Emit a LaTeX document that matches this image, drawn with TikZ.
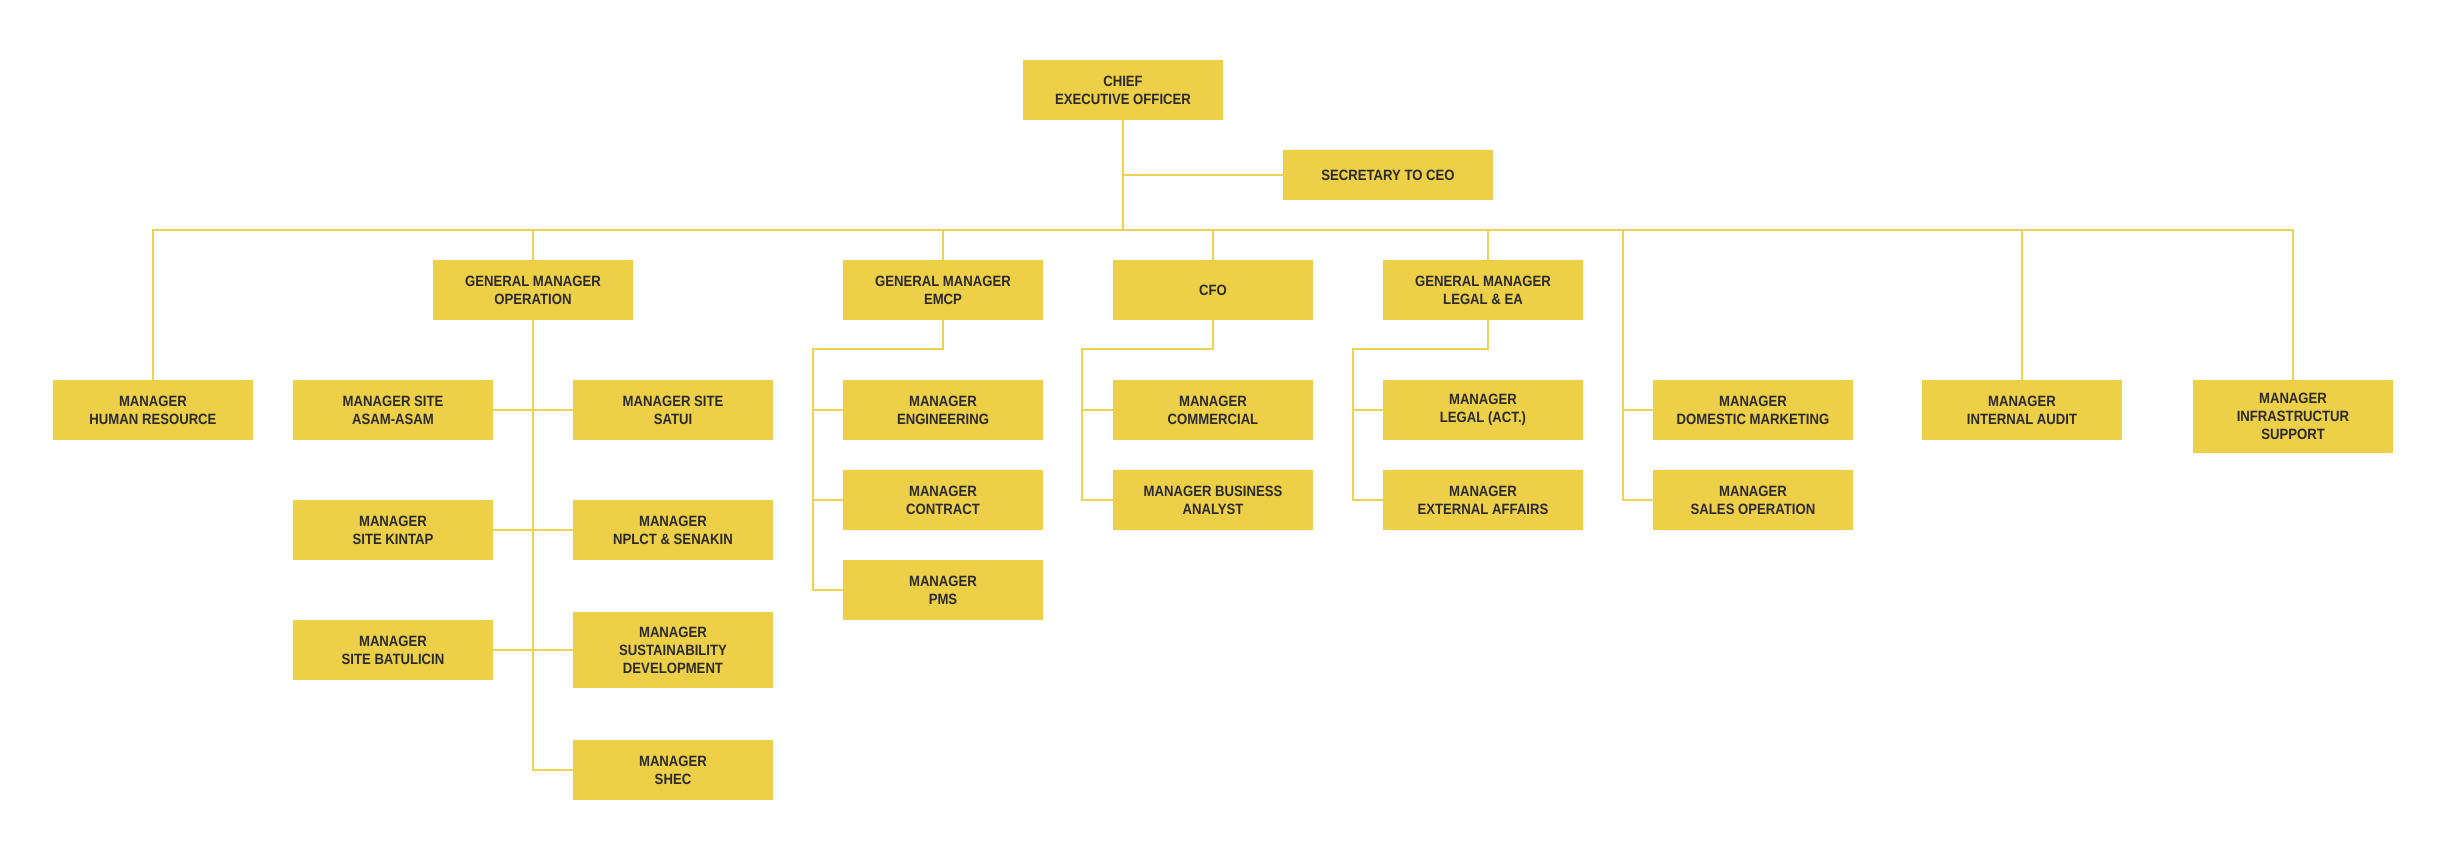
\documentclass[tikz,border=0pt]{standalone}
\usepackage{fontspec}
\usepackage{tikz}
\newfontfamily\orgfont[FakeStretch=0.88]{Liberation Sans}
\definecolor{orgyellow}{HTML}{EDCF48}
\definecolor{orgline}{HTML}{EFD253}
\definecolor{orgtext}{HTML}{2B2B2B}

\begin{document}
\begin{tikzpicture}[x=0.02cm, y=-0.02cm,
        box/.style={fill=orgyellow, text=orgtext, font=\orgfont\bfseries\fontsize{8.5}{10.2}\selectfont, align=center, minimum width=4cm, minimum height=1.2cm, inner sep=2pt},
        link/.style={draw=orgline, line width=1.6pt}]
        \useasboundingbox (0,0) rectangle (2459,853);
        % top
        \node[box] (ceo) at (1123,90) {CHIEF\\EXECUTIVE OFFICER};
        \node[box, minimum width=4.2cm, minimum height=1cm] (sec) at (1388,175) {SECRETARY TO CEO};
        % general managers
        \node[box] (gmop) at (533,290) {GENERAL MANAGER\\OPERATION};
        \node[box] (gmemcp) at (943,290) {GENERAL MANAGER\\EMCP};
        \node[box] (cfo) at (1213,290) {CFO};
        \node[box] (gmlegal) at (1483,290) {GENERAL MANAGER\\LEGAL \& EA};
        % managers under ceo
        \node[box] (hr) at (153,410) {MANAGER\\HUMAN RESOURCE};
        \node[box] (domestic) at (1753,410) {MANAGER\\DOMESTIC MARKETING};
        \node[box] (sales) at (1753,500) {MANAGER\\SALES OPERATION};
        \node[box] (audit) at (2022,410) {MANAGER\\INTERNAL AUDIT};
        \node[box, minimum height=1.46cm] (infra) at (2293,416.5) {MANAGER\\INFRASTRUCTUR\\SUPPORT};
        % operation
        \node[box] (asam) at (393,410) {MANAGER SITE\\ASAM-ASAM};
        \node[box] (satui) at (673,410) {MANAGER SITE\\SATUI};
        \node[box] (kintap) at (393,530) {MANAGER\\SITE KINTAP};
        \node[box] (nplct) at (673,530) {MANAGER\\NPLCT \& SENAKIN};
        \node[box] (batulicin) at (393,650) {MANAGER\\SITE BATULICIN};
        \node[box, minimum height=1.52cm] (sustain) at (673,650) {MANAGER\\SUSTAINABILITY\\DEVELOPMENT};
        \node[box] (shec) at (673,770) {MANAGER\\SHEC};
        % emcp
        \node[box] (eng) at (943,410) {MANAGER\\ENGINEERING};
        \node[box] (contract) at (943,500) {MANAGER\\CONTRACT};
        \node[box] (pms) at (943,590) {MANAGER\\PMS};
        % cfo
        \node[box] (commercial) at (1213,410) {MANAGER\\COMMERCIAL};
        \node[box] (analyst) at (1213,500) {MANAGER BUSINESS\\ANALYST};
        % legal
        \node[box] (legalact) at (1483,410) {MANAGER\\LEGAL (ACT.)};
        \node[box] (extaffairs) at (1483,500) {MANAGER\\EXTERNAL AFFAIRS};

        \coordinate (bus) at (1123,230);
        \coordinate (mktcol) at (1623,230);
        \coordinate (emcpcol) at (813,349);
        \coordinate (cfocol) at (1082,349);
        \coordinate (legalcol) at (1353,349);
        \coordinate (legaltop) at ([xshift=0.1cm]gmlegal.north);
        \coordinate (legalbot) at ([xshift=0.1cm]gmlegal.south);

        \draw[link] (ceo.south) -- (bus);
        \draw[link] (ceo.south |- sec) -- (sec.west);
        \draw[link] (hr.north) |- (bus) -| (infra.north);
        \foreach \n in {gmop.north, gmemcp.north, cfo.north, legaltop, audit.north}
            \draw[link] (\n) -- (\n |- bus);
        \draw[link] (mktcol) |- (sales.west);
        \draw[link] (mktcol |- domestic.west) -- (domestic.west);
        \draw[link] (gmemcp.south) |- (emcpcol) |- (pms.west);
        \draw[link] (emcpcol |- eng.west) -- (eng.west);
        \draw[link] (emcpcol |- contract.west) -- (contract.west);
        \draw[link] (cfo.south) |- (cfocol) |- (analyst.west);
        \draw[link] (cfocol |- commercial.west) -- (commercial.west);
        \draw[link] (legalbot) |- (legalcol) |- (extaffairs.west);
        \draw[link] (legalcol |- legalact.west) -- (legalact.west);
        \draw[link] (gmop.south) |- (shec.west);
        \draw[link] (asam.east) -- (satui.west);
        \draw[link] (kintap.east) -- (nplct.west);
        \draw[link] (batulicin.east) -- (sustain.west);
    \end{tikzpicture}
\end{document}
